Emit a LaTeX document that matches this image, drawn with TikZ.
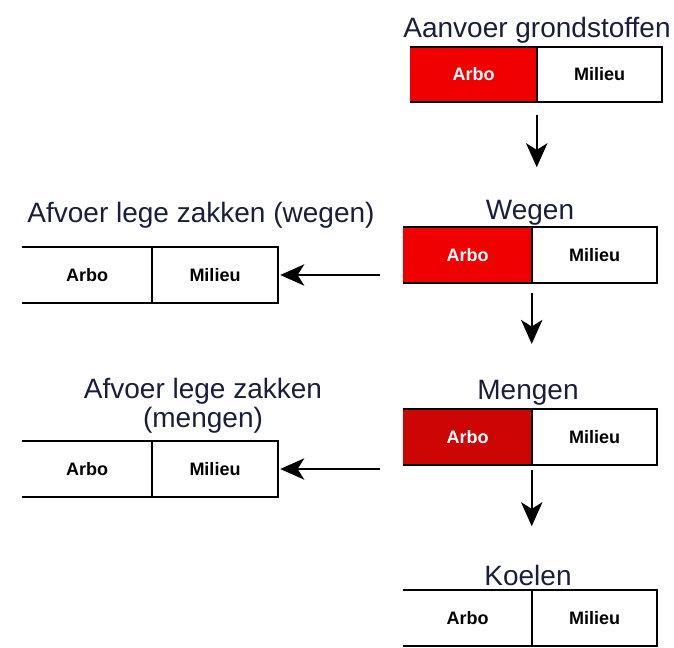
\documentclass[tikz,border=0pt]{standalone}
\usepackage{fontspec}
\setmainfont{Liberation Sans}
\usetikzlibrary{arrows.meta}
\definecolor{titlecol}{RGB}{25,30,60}
\definecolor{redA}{RGB}{240,0,0}
\definecolor{redB}{RGB}{205,5,5}
\tikzset{
  cell/.style={inner sep=0pt, minimum height=55*0.75pt, font=\fontsize{13.5pt}{15pt}\selectfont\bfseries},
  redcell/.style={cell, fill=#1, text=white},
  title/.style={inner sep=0pt, text=titlecol, font=\fontsize{21pt}{21pt}\selectfont, align=center},
  outline/.style={line width=1.6pt, black},
  arr/.style={line width=1.8pt, -{Stealth[length=18pt, width=16pt, inset=5pt]}}
}
\begin{document}
\begin{tikzpicture}[x=0.75pt, y=-0.75pt]
\useasboundingbox (0,0) rectangle (674,648);
% top box
\node[redcell=redA, minimum width=127*0.75pt] (ta) at (473.5,74.5) {Arbo};
\node[cell, minimum width=125*0.75pt] (tm) at (599.5,74.5) {Milieu};
\node[title] (tt) at (537,30) {Aanvoer grondstoffen};
% wegen
\node[redcell=redA, minimum width=129*0.75pt] (wa) at (467.5,255) {Arbo};
\node[cell, minimum width=125*0.75pt] (wm) at (594.5,255) {Milieu};
\node[title] (wt) at (530,213) {Wegen};
% mengen
\node[redcell=redB, minimum width=129*0.75pt] (ma) at (467.5,437) {Arbo};
\node[cell, minimum width=125*0.75pt] (mm) at (594.5,437) {Milieu};
\node[title] (mt) at (528,393) {Mengen};
% koelen
\node[cell, minimum width=129*0.75pt] (ka) at (467.5,618) {Arbo};
\node[cell, minimum width=125*0.75pt] (km) at (594.5,618) {Milieu};
\node[title] (kt) at (528,575) {Koelen};
% left wegen
\node[cell, minimum width=130*0.75pt] (la) at (87,275) {Arbo};
\node[cell, minimum width=126*0.75pt] (lm) at (215,275) {Milieu};
\node[title] (lt) at (201,215) {Afvoer lege zakken (wegen)};
% left mengen
\node[title] (nt) at (203,406) {Afvoer lege zakken\\[1pt](mengen)};
\node[cell, minimum width=130*0.75pt] (na) at (87,469) {Arbo};
\node[cell, minimum width=126*0.75pt] (nm) at (215,469) {Milieu};
% outlines (left side open)
\foreach \a/\m in {ta/tm, wa/wm, ma/mm, ka/km, la/lm, na/nm}{
  \draw[outline] (\a.north west) -- (\m.north east) -- (\m.south east) -- (\a.south west);
  \draw[outline] (\m.north west) -- (\m.south west);
}
% vertical arrows
\draw[arr, shorten <=9.75pt, shorten >=45pt] (tm.south west) -- (tm.south west |- wm.north west);
\draw[arr, shorten <=7.5pt, shorten >=49pt] (wm.south west) -- (wm.south west |- mm.north west);
\draw[arr, shorten <=4pt, shorten >=48pt] (mm.south west) -- (mm.south west |- km.north west);
% horizontal arrows
\draw[arr, shorten <=17pt, shorten >=1.5pt] (wa.west |- lm.east) -- (lm.east);
\draw[arr, shorten <=17pt, shorten >=1.5pt] (ma.west |- nm.east) -- (nm.east);
\end{tikzpicture}
\end{document}
